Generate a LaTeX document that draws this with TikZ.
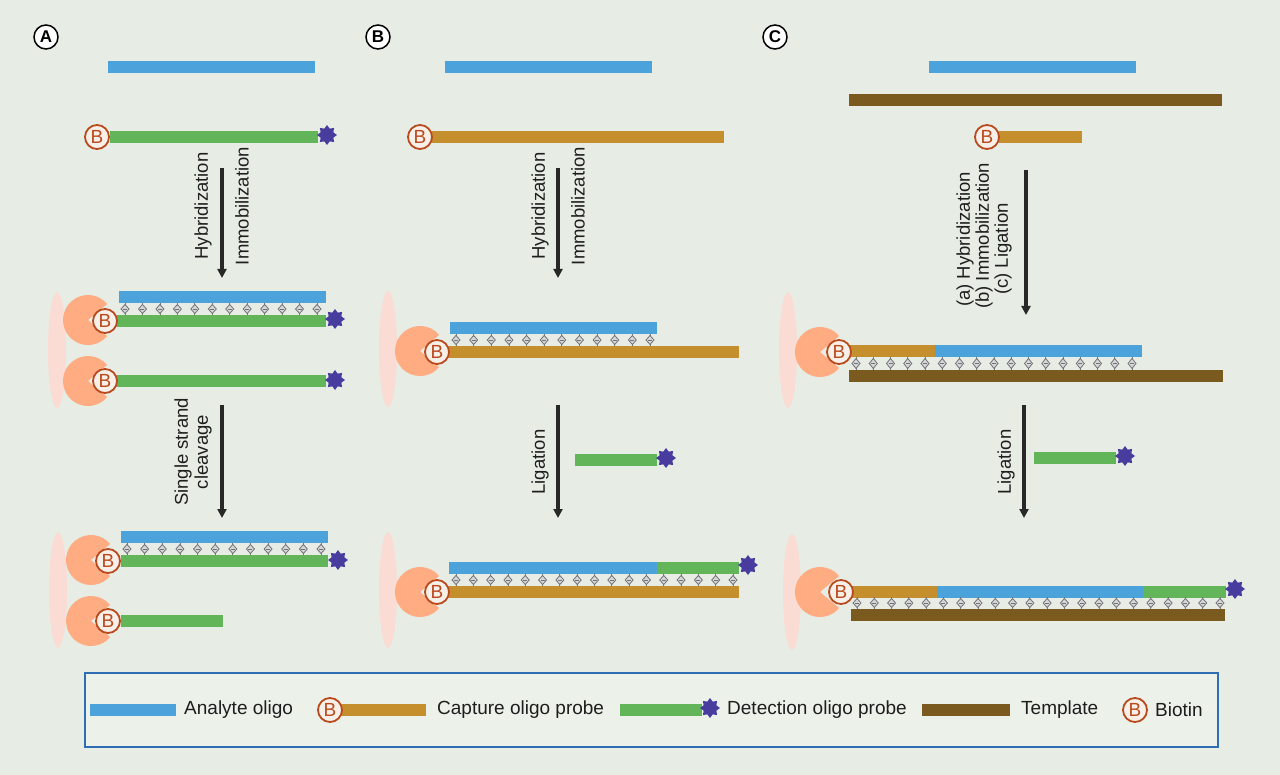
\documentclass[tikz,border=0pt]{standalone}
\usepackage{fontspec}
\setmainfont{Liberation Sans}
\usetikzlibrary{shapes.geometric,arrows.meta}
\definecolor{bg}{RGB}{231,237,228}
\definecolor{legf}{RGB}{236,241,233}
\definecolor{blu}{RGB}{76,163,219}
\definecolor{grn}{RGB}{99,181,90}
\definecolor{gld}{RGB}{196,143,44}
\definecolor{brn}{RGB}{122,90,31}
\definecolor{strc}{RGB}{72,60,158}
\definecolor{bio}{RGB}{185,74,30}
\definecolor{biof}{RGB}{248,240,232}
\definecolor{pac}{RGB}{255,172,130}
\definecolor{surf}{RGB}{250,220,212}
\definecolor{bpd}{RGB}{115,115,120}
\definecolor{bpf}{RGB}{212,214,216}
\definecolor{arr}{RGB}{40,40,40}
\definecolor{leg}{RGB}{47,109,181}
\definecolor{txt}{RGB}{30,30,30}
\tikzset{
  biot/.style={circle, draw=bio, line width=1.8pt, fill=biof, text=bio,
    font=\fontsize{19}{19}\selectfont, inner sep=0pt, minimum size=24pt},
  dstar/.style={star, star points=8, star point ratio=1.45, fill=strc,
    minimum size=20pt, inner sep=0pt},
  proc/.style={draw=arr, line width=3.5pt, -{Triangle[width=9pt,length=9pt]}},
  lab/.style={rotate=90, text=txt, font=\fontsize{18.5}{20}\selectfont, align=center, inner sep=0pt},
  legtxt/.style={anchor=west, text=txt, font=\fontsize{19}{21}\selectfont, inner sep=0pt},
  panel/.style={circle, draw=black, line width=1.5pt, fill=white, inner sep=0pt,
    minimum size=24pt, font=\fontsize{17}{17}\selectfont\bfseries}
}
\newcommand\strand[4]{\fill[#1] (#2,#4-6) rectangle (#3,#4+6);}
\newcommand\biotin[3]{\node[biot] (#1) at (#2,#3) {B};}
\newcommand\dstarat[3]{\node[dstar] (#1) at (#2,#3) {};}
\newcommand\pacman[2]{\fill[pac] (#1,#2) -- ++(40:25pt) arc[start angle=40,end angle=320,radius=25pt] -- cycle;}
\newcommand\surface[2]{\fill[surf] (#1,#2) ellipse[x radius=9pt, y radius=58pt];}
\newcommand\bprow[5]{%
  \pgfmathtruncatemacro\bpn{#3-1}%
  \foreach \k in {0,...,\bpn}{%
    \pgfmathsetmacro\bpx{#1+(#2-#1)*\k/\bpn}%
    \pgfmathsetmacro\bpm{(#4+#5)/2}%
    \draw[bpd, line width=0.8pt] (\bpx,#4) -- (\bpx,#5);
    \filldraw[fill=bpf, draw=bpd, line width=0.8pt] (\bpx,#4+1.5) -- (\bpx+4,\bpm) -- (\bpx,#5-1.5) -- (\bpx-4,\bpm) -- cycle;
    \draw[bpd, line width=0.7pt] (\bpx-2,\bpm) -- (\bpx+2,\bpm);
  }}
\begin{document}
\begin{tikzpicture}[x=1pt,y=-1pt]
\useasboundingbox (0,0) rectangle (1280,775);
\fill[bg] (0,0) rectangle (1280,775);

% panel labels
\node[panel] (pA) at (46,37) {A};
\node[panel] (pB) at (378,37) {B};
\node[panel] (pC) at (775,37) {C};

%%%%%%%%%%%% Panel A
\strand{blu}{108}{315}{67.5}
\strand{grn}{110}{318}{137}
\biotin{a0b}{97}{137}
\dstarat{a0s}{327}{135}

\coordinate (a1s) at (222,168); \coordinate (a1e) at (222,278);
\draw[proc] (a1s) -- (a1e);
\node[lab] (a1l) at (203,206) {Hybridization};
\node[lab] (a1r) at (242,206) {Immobilization};

\surface{57}{350}
\pacman{88}{320}
\pacman{88}{381}
\strand{blu}{119}{326}{297.5}
\strand{grn}{117}{326}{321}
\bprow{125}{317}{12}{303}{315}
\biotin{a1b}{105}{321}
\dstarat{a1st}{335}{319}
\strand{grn}{117}{326}{381.5}
\biotin{a2b}{105}{381}
\dstarat{a2st}{335}{380}

\coordinate (a2s) at (222,405); \coordinate (a2e) at (222,518);
\draw[proc] (a2s) -- (a2e);
\node[lab] (a2l) at (193,452) {Single strand\\cleavage};

\surface{58}{590}
\pacman{91}{560}
\pacman{91}{621}
\strand{blu}{121}{328}{537}
\strand{grn}{121}{328}{561}
\bprow{127}{321}{12}{543}{555}
\biotin{a3b}{108}{561}
\dstarat{a3st}{338}{560}
\strand{grn}{121}{223}{621}
\biotin{a4b}{108}{621}

%%%%%%%%%%%% Panel B
\strand{blu}{445}{652}{67.5}
\strand{gld}{432}{724}{137}
\biotin{b0b}{420}{137}

\coordinate (b1s) at (558,168); \coordinate (b1e) at (558,278);
\draw[proc] (b1s) -- (b1e);
\node[lab] (b1l) at (540,206) {Hybridization};
\node[lab] (b1r) at (578,206) {Immobilization};

\surface{388}{349}
\pacman{420}{351}
\strand{blu}{450}{657}{328}
\strand{gld}{449}{739}{352}
\bprow{456}{650}{12}{334}{346}
\biotin{b1b}{437}{352}

\coordinate (b2s) at (558,405); \coordinate (b2e) at (558,518);
\draw[proc] (b2s) -- (b2e);
\node[lab] (b2l) at (540,462) {Ligation};
\strand{grn}{575}{657}{459.5}
\dstarat{b2st}{666}{458}

\surface{388}{590}
\pacman{420}{592}
\strand{blu}{449}{657}{568}
\strand{grn}{657}{739}{568}
\strand{gld}{449}{739}{592}
\bprow{456}{733}{17}{574}{586}
\biotin{b3b}{437}{592}
\dstarat{b3st}{748}{565}

%%%%%%%%%%%% Panel C
\strand{blu}{929}{1136}{67.5}
\strand{brn}{849}{1222}{100}
\strand{gld}{999}{1082}{137}
\biotin{c0b}{987}{137}

\coordinate (c1s) at (1026,170); \coordinate (c1e) at (1026,315);
\draw[proc] (c1s) -- (c1e);
\node[lab, anchor=west] (c1a) at (965,307) {(a) Hybridization};
\node[lab, anchor=west] (c1b) at (984,309) {(b) Immobilization};
\node[lab, anchor=west] (c1c) at (1003,295) {(c) Ligation};

\surface{788}{350}
\pacman{820}{352}
\strand{gld}{850}{935}{351.5}
\strand{blu}{935}{1142}{351.5}
\bprow{856}{1132}{17}{357}{370}
\strand{brn}{849}{1223}{376}
\biotin{c1bb}{839}{352}

\coordinate (c2s) at (1024,405); \coordinate (c2e) at (1024,518);
\draw[proc] (c2s) -- (c2e);
\node[lab] (c2l) at (1006,462) {Ligation};
\strand{grn}{1034}{1116}{458}
\dstarat{c2st}{1125}{456}

\surface{792}{592}
\pacman{820}{592}
\strand{gld}{852}{937}{591.5}
\strand{blu}{937}{1143}{591.5}
\strand{grn}{1143}{1226}{591.5}
\bprow{857}{1220}{22}{597}{609}
\strand{brn}{851}{1225}{615}
\biotin{c3b}{841}{592}
\dstarat{c3st}{1235}{589}

%%%%%%%%%%%% Legend
\draw[leg, line width=1.6pt, fill=legf] (85,673) rectangle (1218,747);
\strand{blu}{90}{176}{710}
\node[legtxt] (l1) at (184,710) {Analyte oligo};
\strand{gld}{342}{426}{710}
\biotin{l2b}{330}{710}
\node[legtxt] (l2) at (437,710) {Capture oligo probe};
\strand{grn}{620}{702}{710}
\dstarat{l3s}{710}{708}
\node[legtxt] (l3) at (727,710) {Detection oligo probe};
\strand{brn}{922}{1010}{710}
\node[legtxt] (l4) at (1021,710) {Template};
\biotin{l5b}{1135}{710}
\node[legtxt] (l5) at (1155,710) {Biotin};
\end{tikzpicture}
\end{document}
